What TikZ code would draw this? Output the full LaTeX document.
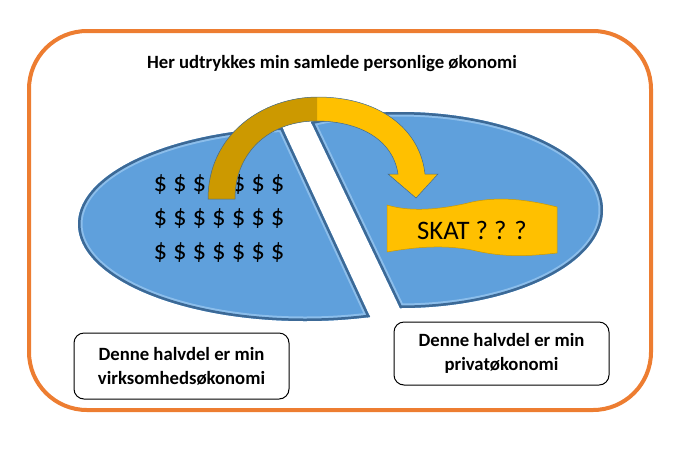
\documentclass[tikz,border=0pt]{standalone}
\usepackage{fontspec}
\setmainfont{Carlito}
\definecolor{frameorange}{RGB}{237,125,49}
\definecolor{pieblue}{RGB}{95,160,220}
\definecolor{pielight}{RGB}{140,190,235}
\definecolor{pieedge}{RGB}{60,105,150}
\definecolor{skatgold}{RGB}{255,192,0}
\definecolor{skatdark}{RGB}{204,153,0}
\newcommand{\skatarrow}{(208,199) .. controls (208,135) and (262,97) .. (318,97)
  .. controls (378,97) and (420,128) .. (425,174) -- (438,174) -- (416,198)
  -- (388,174) -- (398,174) .. controls (393,140) and (360,121) .. (316,121)
  .. controls (272,121) and (235,150) .. (235,199) -- cycle}

\begin{document}
\begin{tikzpicture}[x=1pt,y=-1pt,
    textbox/.style={draw,rounded corners=10pt,line width=1pt,minimum width=215pt,
      align=center,font=\fontsize{18.7}{24}\selectfont\bfseries},
    dollars/.style={font=\fontsize{26.7}{30}\selectfont},
    pieglow/.style={line width=9pt,draw=pielight},
    pieedge/.style={line width=5pt,draw=pieedge}]
    \useasboundingbox (0,0) rectangle (682,451);
    \draw[frameorange,line width=4pt,rounded corners=58pt] (29,31) rectangle (651,410);
    \node[font=\fontsize{18.7}{22}\selectfont\bfseries,anchor=base] (title) at (332,68)
      {Her udtrykkes min samlede personlige økonomi};
    \begin{scope}
      \clip (238,32) -- (414,412) -- (0,412) -- (0,32) -- cycle;
      \clip (305,224) ellipse [x radius=227pt,y radius=97pt];
      \fill[pieblue] (0,0) rectangle (682,451);
      \draw[pieglow] (305,224) ellipse [x radius=227pt,y radius=97pt];
      \draw[pieglow] (238,32) -- (414,412);
      \draw[pieedge] (305,224) ellipse [x radius=227pt,y radius=97pt];
      \draw[pieedge] (238,32) -- (414,412);
    \end{scope}
    \begin{scope}
      \clip (266.5,29) -- (444.5,401) -- (682,401) -- (682,29) -- cycle;
      \clip (400,210) ellipse [x radius=203pt,y radius=98pt];
      \fill[pieblue] (0,0) rectangle (682,451);
      \draw[pieglow] (400,210) ellipse [x radius=203pt,y radius=98pt];
      \draw[pieglow] (266.5,29) -- (444.5,401);
      \draw[pieedge] (400,210) ellipse [x radius=203pt,y radius=98pt];
      \draw[pieedge] (266.5,29) -- (444.5,401);
    \end{scope}
    \node[dollars] (D1) at (219,185) {\$ \$ \$ \$ \$ \$ \$};
    \node[dollars] (D2) at (219,219) {\$ \$ \$ \$ \$ \$ \$};
    \node[dollars] (D3) at (219,253) {\$ \$ \$ \$ \$ \$ \$};
    \fill[skatgold] \skatarrow;
    \begin{scope}
      \clip (0,0) rectangle (317,451);
      \fill[skatdark] \skatarrow;
    \end{scope}
    \draw[pieedge,line width=0.5pt] \skatarrow;
    \filldraw[fill=skatgold,draw=skatdark,line width=0.5pt] (387,205)
      .. controls (410,212) and (440,210) .. (472,202)
      .. controls (500,196) and (530,200) .. (557,207) -- (557,253)
      .. controls (530,256) and (505,258) .. (472,250)
      .. controls (440,244) and (410,248) .. (387,252) -- cycle;
    \node[dollars] (skat) at (472,230) {SKAT ? ? ?};
    \node[textbox,minimum height=66pt] (virk) at (181.5,366)
      {Denne halvdel er min\\virksomhedsøkonomi};
    \node[textbox,minimum height=63pt] (privat) at (501.5,353.5)
      {Denne halvdel er min\\privatøkonomi};
\end{tikzpicture}
\end{document}
